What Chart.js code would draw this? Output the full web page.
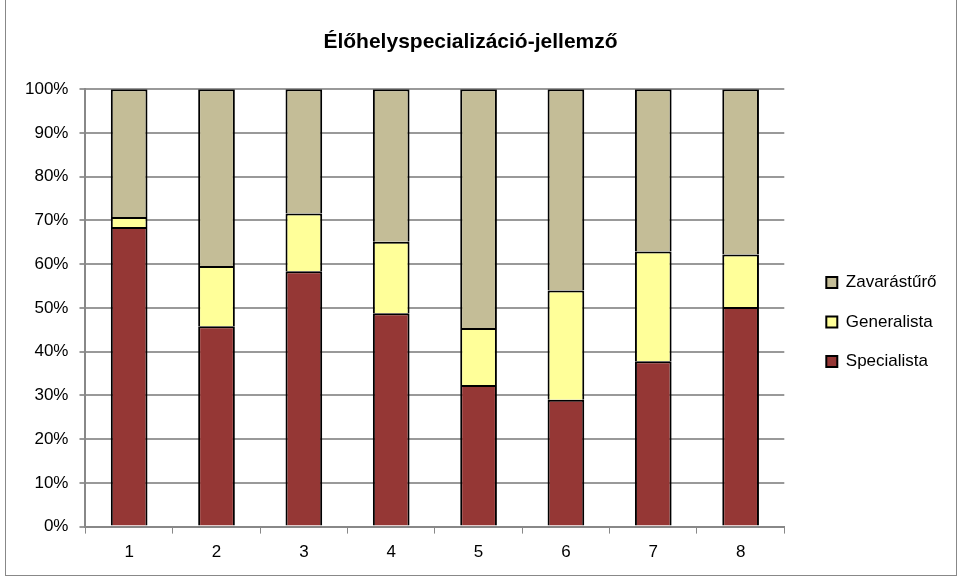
<!DOCTYPE html>
<html>
<head>
<meta charset="utf-8">
<script src="https://cdn.jsdelivr.net/npm/chart.js@4.4.0/dist/chart.umd.min.js"></script>
<style>
body { margin: 0; background: #fff; }
#wrap { position: absolute; left: 5px; top: 0; width: 950px; height: 575px; border: 1px solid #888; border-top: none; }
canvas { display: block; }
</style>
</head>
<body>
<div id="wrap"><canvas id="mycanvas" width="950" height="575"></canvas></div>
<script>
var kategoriak = ['1', '2', '3', '4', '5', '6', '7', '8'];
var specialista = [68.5, 45.8, 58.4, 48.8, 32.4, 29.0, 37.8, 50.2];
var generalista = [2.3, 13.8, 13.2, 16.3, 13.0, 25.0, 25.1, 12.0];
var zavarasturo = [29.2, 40.4, 28.4, 34.9, 54.6, 46.0, 37.1, 37.8];

Chart.defaults.font.family = "'Liberation Sans', Arial, sans-serif";
Chart.defaults.color = '#000';

// a jelmagyarazatot kicsit jobbra es lejjebb toljuk, mint az eredetin
var legendShift = {
	id: 'legendShift',
	afterLayout: function (chart) {
		var lg = chart.legend;
		var dx = chart.chartArea.right + 19.5 - lg.left;
		var dy = 36;
		lg.left += dx;
		lg.right += dx + 20;
		lg.top += dy;
		lg.bottom += dy;
	}
};

var chartdata = {
	labels: kategoriak,
	datasets: [
		{ label: 'Specialista', backgroundColor: '#953735', borderColor: '#000', borderWidth: 2, data: specialista },
		{ label: 'Generalista', backgroundColor: '#FFFF99', borderColor: '#000', borderWidth: 2, data: generalista },
		{ label: 'Zavarástűrő', backgroundColor: '#C4BD97', borderColor: '#000', borderWidth: 2, data: zavarasturo }
	]
};

var ctx = document.getElementById('mycanvas');

var barGraph = new Chart(ctx, {
	type: 'bar',
	data: chartdata,
	plugins: [legendShift],
	options: {
		responsive: false,
		animation: false,
		layout: { padding: { left: 8, right: 29, top: 0, bottom: 3 } },
		datasets: { bar: { categoryPercentage: 0.42, barPercentage: 1 } },
		plugins: {
			title: {
				display: true,
				text: 'Élőhelyspecializáció-jellemző',
				font: { size: 21, weight: 'bold' },
				padding: { top: 30, bottom: 34 }
			},
			legend: {
				position: 'right',
				reverse: true,
				labels: {
					boxWidth: 11,
					boxHeight: 11,
					padding: 22.5,
					font: { size: 17 }
				}
			},
			tooltip: { enabled: false }
		},
		scales: {
			x: {
				stacked: true,
				grid: { offset: true, drawOnChartArea: false, color: '#888', lineWidth: 1, tickLength: 7 },
				border: { color: '#888', width: 2 },
				ticks: { font: { size: 17 }, padding: 9 }
			},
			y: {
				stacked: true,
				min: 0,
				max: 100,
				ticks: { stepSize: 10, font: { size: 17 }, padding: 11, callback: function (v) { return v + '%'; } },
				grid: { color: '#999', lineWidth: 2, tickLength: 6 },
				border: { color: '#888', width: 2 }
			}
		}
	}
});
</script>
</body>
</html>
